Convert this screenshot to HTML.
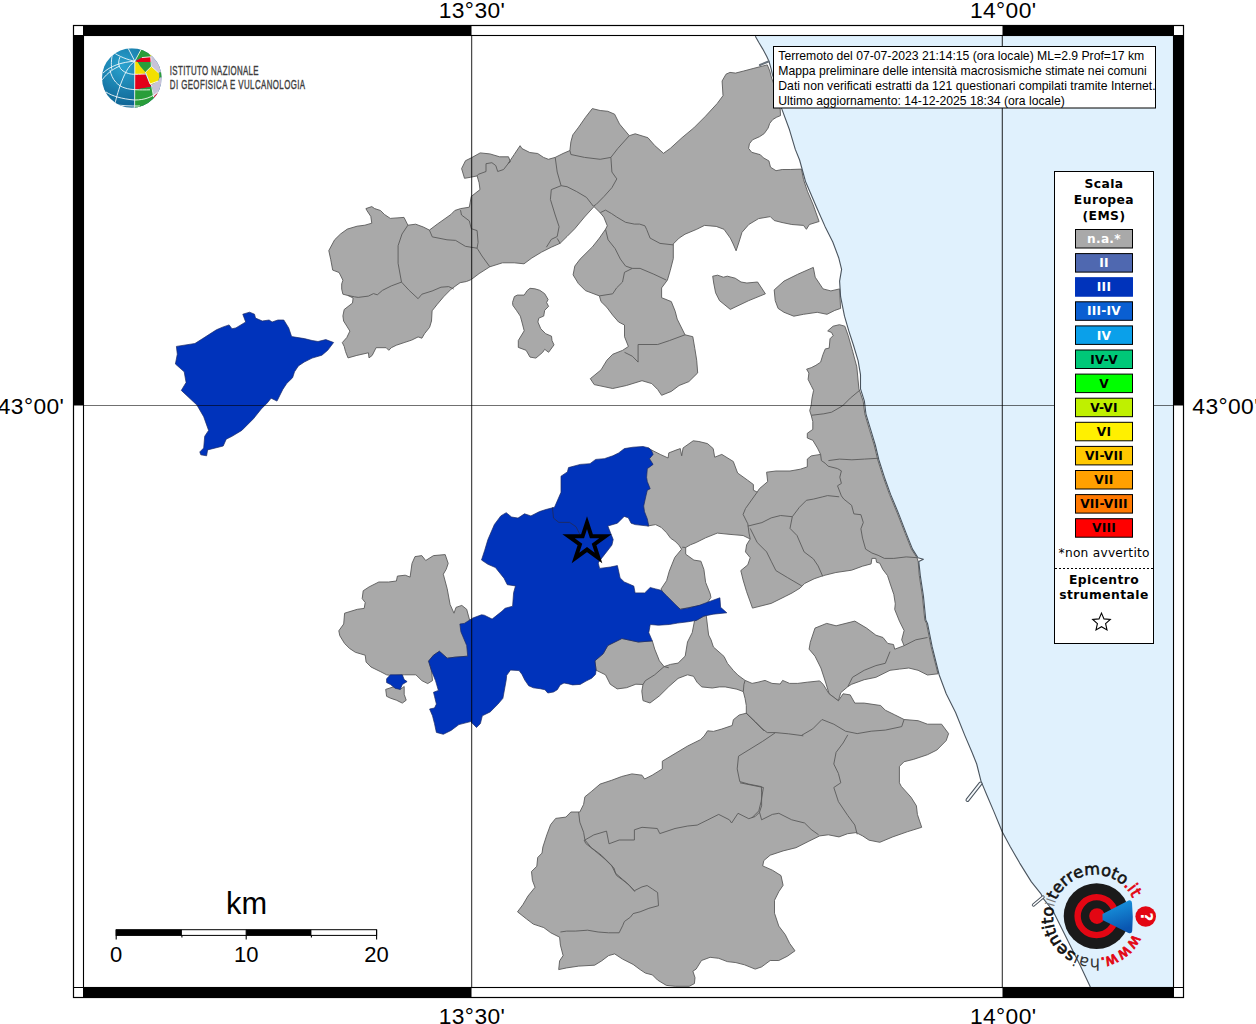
<!DOCTYPE html><html><head><meta charset="utf-8"><title>Mappa intensità macrosismiche</title><style>html,body{margin:0;padding:0;background:#fff;width:1256px;height:1024px;overflow:hidden}svg{display:block}</style></head><body>
<svg width="1256" height="1024" viewBox="0 0 1256 1024">
<defs><clipPath id="mapclip"><rect x="84" y="36" width="1089" height="951"/></clipPath><radialGradient id="globeblue" cx="0.35" cy="0.3" r="0.8"><stop offset="0" stop-color="#2aa3cf"/><stop offset="1" stop-color="#0b5a8a"/></radialGradient><linearGradient id="megablue" x1="0" y1="0" x2="0.3" y2="1"><stop offset="0" stop-color="#1aa0e6"/><stop offset="1" stop-color="#0a56b0"/></linearGradient></defs>
<rect width="1256" height="1024" fill="#fff"/>
<g clip-path="url(#mapclip)">
<polygon points="755.3,36.2 758.7,42.3 762.8,49.1 766.9,56.7 769.0,61.4 771.0,68.3 772.4,74.4 775.8,85.0 781.6,108.4 789.5,129.8 795.3,149.4 799.6,160.0 805.5,181.5 817.2,208.8 825.0,226.4 832.8,242.0 838.7,257.7 841.6,269.4 839.6,281.1 840.6,296.7 844.5,316.2 848.8,330.9 853.4,345.0 858.1,360.6 860.5,374.7 860.5,388.8 864.4,401.2 865.9,413.8 870.6,429.4 875.3,445.0 878.9,460.0 884.4,477.2 890.6,494.4 898.4,513.1 906.2,533.4 912.5,549.1 918.0,557.7 923.4,559.2 918.8,561.6 920.3,575.6 923.4,595.9 925.8,620.0 927.5,623.4 932.2,646.9 939.2,675.0 946.2,693.8 955.6,712.5 965.0,735.9 972.0,752.3 976.7,764.0 981.0,781.1 986.9,795.2 993.9,811.6 1002.1,831.5 1010.3,846.7 1019.7,863.1 1031.4,881.9 1040.8,893.6 1043.1,898.3 1052.5,910.0 1061.9,928.7 1071.2,947.5 1080.6,966.2 1090.0,986.2 1090.5,988.0 1180.0,990.0 1180.0,30.0" fill="#e0f1fd"/>
<polygon points="365.9,208.6 371.8,206.6 374.7,208.6 380.5,210.5 384.5,214.5 390.3,218.4 404.0,217.4 407.9,225.2 415.7,224.2 423.5,227.1 429.4,230.1 437.2,224.2 450.9,214.5 454.8,210.5 460.6,208.6 469.3,207.2 471.3,196.4 480.0,189.6 479.1,182.8 477.1,175.9 470.4,177.3 464.5,178.3 461.6,168.6 465.5,160.7 471.4,157.8 480.2,152.9 489.9,153.9 499.7,156.8 508.5,156.8 510.4,161.7 508.4,163.2 514.2,154.5 520.1,145.7 522.0,148.6 529.8,152.5 537.7,153.5 543.5,157.4 548.4,159.3 555.2,157.4 563.0,153.5 569.9,150.5 570.9,141.8 572.8,134.9 578.7,127.1 585.5,117.3 592.3,108.6 600.2,110.5 607.8,111.3 614.6,114.2 619.5,124.0 629.3,135.7 635.2,133.8 647.9,137.7 654.7,145.5 663.5,153.3 670.3,148.4 682.0,137.7 693.8,127.9 705.5,116.2 717.2,103.5 723.0,95.7 722.1,81.0 726.0,74.2 730.0,72.4 735.5,73.1 743.7,71.0 753.9,68.3 762.1,66.2 767.3,64.9 769.8,71.0 771.3,77.0 774.5,86.0 777.5,97.0 780.2,109.0 780.5,115.6 776.7,117.2 772.8,119.5 769.7,123.4 768.1,128.1 764.2,133.6 759.5,136.7 752.5,139.8 749.4,143.8 748.6,148.4 751.7,152.3 760.3,154.7 763.4,157.8 768.9,160.9 770.5,167.2 776.0,170.7 782.2,169.5 790.8,169.5 801.5,169.1 803.5,179.5 807.4,191.2 813.2,204.9 819.1,221.5 809.4,224.5 806.4,229.3 803.5,225.4 791.8,224.5 782.0,222.5 774.2,220.5 770.3,216.6 758.6,218.6 748.8,224.5 742.0,232.3 739.0,242.0 736.1,250.8 733.2,244.0 730.3,238.1 724.0,229.3 716.2,226.4 704.5,225.4 696.7,229.3 685.0,234.2 679.1,238.1 673.3,243.9 673.3,258.6 670.3,270.3 667.4,280.1 661.6,287.9 661.6,297.7 671.3,301.6 675.2,311.3 677.2,319.1 685.0,334.8 692.8,336.7 694.8,348.4 696.7,360.2 697.7,372.9 688.9,381.6 679.1,385.5 671.3,391.4 661.6,395.3 657.7,389.5 651.8,383.6 642.0,380.7 626.4,385.5 612.7,388.5 594.2,384.6 590.3,378.7 601.0,369.9 606.9,360.2 612.7,354.3 622.5,350.4 628.4,346.5 624.5,336.7 624.5,325.0 618.6,322.0 612.7,315.2 606.9,307.4 601.0,301.6 599.4,295.9 585.4,290.6 578.4,283.6 573.1,274.9 574.8,266.1 580.1,259.1 592.4,246.9 599.4,238.1 605.5,229.3 607.3,225.8 603.8,217.1 600.2,212.7 594.0,206.6 584.5,217.0 574.8,228.7 567.0,236.5 560.1,243.3 551.3,247.2 541.6,252.1 531.8,258.0 524.0,263.8 514.2,262.8 502.5,262.8 489.8,266.8 479.1,273.6 471.3,279.5 466.5,281.5 460.1,282.7 451.2,289.1 443.6,296.8 437.2,304.4 432.1,310.8 431.5,321.0 429.6,327.3 424.5,333.7 421.9,338.2 418.1,336.9 411.7,340.1 404.1,342.6 396.4,345.2 391.3,347.7 388.8,350.3 386.2,347.7 376.1,347.7 372.2,355.4 369.0,357.9 368.4,352.8 356.9,355.4 348.0,357.9 345.5,351.5 344.2,346.4 342.3,342.6 346.8,337.5 349.9,331.1 346.8,326.1 343.6,321.0 342.9,315.9 344.2,309.5 352.5,303.1 353.1,298.0 348.0,295.5 342.9,294.2 341.7,289.1 341.7,284.0 342.9,280.2 339.1,272.5 332.7,270.1 330.7,259.4 328.8,250.6 334.6,239.8 340.5,234.0 347.3,229.1 357.1,226.2 364.9,225.2 371.8,223.2 370.8,216.4 366.9,210.5" fill="#a9a9a9" stroke="#5a5a5a" stroke-width="0.9" stroke-linejoin="round" />
<polygon points="512.5,302.5 514.4,296.6 517.3,295.1 524.2,295.1 527.1,290.7 530.0,288.3 534.9,288.8 539.8,290.3 544.7,293.7 548.1,299.5 546.6,302.5 548.6,306.4 544.7,310.3 543.7,316.1 538.8,318.1 537.9,322.0 540.8,328.8 545.7,333.7 551.5,336.2 552.0,340.5 554.0,344.9 548.6,352.3 544.7,349.3 542.7,352.3 535.9,358.1 530.0,357.1 526.1,350.3 518.3,347.4 518.3,340.5 524.2,330.8 522.2,323.0 520.3,316.1 516.4,310.3 512.9,305.4" fill="#a9a9a9" stroke="#5a5a5a" stroke-width="0.9" stroke-linejoin="round" />
<polygon points="712.7,276.2 717.6,275.2 723.4,277.2 727.3,276.2 735.2,278.2 741.0,282.0 746.9,283.0 757.6,282.0 765.4,293.8 748.8,300.6 730.3,309.4 719.5,300.6 715.6,292.8 713.7,283.0" fill="#a9a9a9" stroke="#5a5a5a" stroke-width="0.9" stroke-linejoin="round" />
<polygon points="774.2,289.9 784.0,281.1 797.7,274.3 813.3,267.4 815.2,277.2 819.1,283.0 823.0,288.9 830.9,290.9 839.6,288.9 840.6,308.4 834.8,310.4 827.0,314.3 817.2,312.3 803.5,314.3 793.8,316.2 784.0,312.3 778.1,308.4 775.2,300.6" fill="#a9a9a9" stroke="#5a5a5a" stroke-width="0.9" stroke-linejoin="round" />
<polygon points="833.1,326.2 839.4,324.7 844.8,326.2 848.2,335.6 852.6,351.2 856.8,366.9 858.9,388.8 863.2,401.2 864.8,413.8 869.4,429.4 874.2,445.0 877.8,460.0 883.3,477.2 889.5,494.4 897.3,513.1 905.2,533.4 911.4,549.1 917.0,557.7 918.2,561.6 919.3,575.6 922.4,595.9 924.8,620.0 926.5,623.4 931.2,646.9 938.0,673.8 927.5,675.0 918.1,670.3 908.8,668.0 899.4,669.1 890.0,670.3 875.9,677.3 864.2,679.7 851.3,684.4 847.8,686.7 840.8,692.6 838.4,700.8 829.1,693.8 825.5,682.0 820.9,668.0 815.0,656.2 809.1,649.2 810.3,642.2 815.0,628.1 826.7,623.4 836.1,625.8 854.8,621.1 866.6,628.1 875.9,635.2 883.0,637.5 887.7,643.4 893.5,644.5 894.7,649.2 904.1,645.7 901.7,639.8 904.1,630.5 899.4,621.1 894.7,609.4 895.3,603.8 893.8,594.4 890.6,585.0 887.5,575.6 882.8,569.4 879.7,563.1 876.6,562.3 875.8,558.4 871.9,558.4 871.1,563.9 862.5,566.2 851.6,570.2 835.9,572.5 823.4,575.6 814.1,578.8 804.7,583.4 800.0,588.1 792.0,593.0 785.3,596.4 771.2,603.4 752.5,608.1 746.6,591.7 743.1,580.0 740.8,570.6 747.8,564.8 750.2,557.7 745.5,551.9 746.6,544.8 750.2,539.0 743.1,535.5 729.0,534.3 717.3,533.1 705.6,537.8 696.2,542.5 690.4,544.8 685.7,547.5 685.7,554.2 693.9,560.1 700.9,561.2 703.9,569.4 705.6,582.3 710.3,594.1 710.9,597.5 706.2,604.5 692.2,606.9 680.5,609.2 673.4,604.5 664.1,595.2 661.1,588.9 666.6,580.7 669.3,571.1 672.0,564.3 674.8,557.4 681.6,549.2 678.9,545.1 674.8,541.0 670.7,538.3 666.6,532.8 661.1,527.3 655.6,524.6 647.5,526.0 640.0,509.5 640.0,496.6 643.0,486.9 642.0,477.3 642.0,467.6 646.0,460.1 647.0,451.5 648.0,448.0 653.1,450.8 660.2,454.4 668.1,458.0 668.8,452.9 676.0,450.1 680.3,448.6 681.7,455.8 683.1,447.9 693.2,440.8 698.9,441.5 707.5,443.6 713.2,448.6 714.7,457.2 721.8,454.4 733.3,461.5 737.6,473.0 747.6,480.2 753.4,484.5 753.4,490.2 757.2,492.1 759.5,488.6 767.7,481.6 766.6,472.2 775.9,471.0 790.0,471.0 800.3,469.2 807.3,466.9 807.3,459.1 811.2,455.9 820.6,454.4 817.5,448.1 812.8,440.3 807.3,438.0 807.3,433.3 812.8,429.4 812.8,421.6 811.2,415.3 809.7,410.6 811.2,405.2 812.0,398.1 813.6,390.3 811.2,385.6 808.1,379.4 808.9,373.1 806.6,369.2 811.2,367.7 815.9,365.3 820.6,362.2 823.0,354.4 825.3,348.9 829.2,348.1 830.0,338.8 833.1,335.6 831.6,332.5 827.7,330.9" fill="#a9a9a9" stroke="#5a5a5a" stroke-width="0.9" stroke-linejoin="round" />
<polygon points="594.9,660.8 603.1,653.8 607.8,645.5 621.9,638.5 638.3,642.0 652.3,640.9 654.7,649.1 659.4,660.8 664.1,666.6 670.5,664.4 678.1,663.1 685.2,656.1 687.5,642.0 692.2,632.7 694.5,620.9 706.2,615.1 708.6,635.0 711.1,640.0 713.4,647.0 724.0,656.4 727.5,663.4 733.4,670.5 738.0,675.2 745.1,680.4 752.1,683.4 758.0,682.2 765.0,680.4 772.0,683.4 780.2,684.0 782.6,680.4 789.6,683.4 797.8,683.4 807.2,682.2 819.7,680.9 823.2,684.4 829.1,693.8 838.4,700.8 843.1,693.8 850.2,694.9 854.8,703.1 864.2,703.1 880.6,705.5 885.3,710.2 894.7,714.8 904.1,719.5 918.1,720.7 927.5,724.2 941.6,724.2 948.6,733.6 946.2,740.6 936.9,750.0 927.5,754.7 913.4,759.4 904.1,761.7 899.4,766.4 899.4,782.8 901.3,786.4 911.0,797.2 916.4,805.8 917.4,814.4 921.7,827.3 907.8,831.6 892.7,836.9 879.8,842.3 869.1,840.2 862.6,835.9 856.2,832.6 847.6,833.7 839.0,836.9 828.3,834.8 819.7,835.9 808.9,841.2 796.0,847.7 783.1,850.9 770.2,855.2 763.8,860.6 762.7,865.9 772.4,870.2 781.0,875.6 783.1,885.3 778.8,891.7 774.5,900.3 774.5,913.2 778.8,926.1 785.3,934.7 789.6,943.3 795.0,950.8 787.4,956.2 778.8,960.5 770.2,960.5 761.6,966.9 755.2,969.1 744.5,964.8 735.9,962.6 727.3,961.6 718.7,958.3 710.1,957.3 701.5,960.5 696.1,969.1 692.9,971.2 695.0,977.7 694.4,983.6 689.2,986.3 675.2,986.3 666.4,985.4 657.6,980.1 652.4,974.9 645.4,973.1 640.1,969.6 633.1,964.4 622.6,959.1 614.7,953.9 608.6,955.6 601.6,960.9 594.6,965.2 578.8,966.1 566.6,967.9 558.7,969.6 559.6,960.9 563.1,955.6 560.4,945.1 559.6,937.2 550.8,932.8 543.8,927.6 533.3,924.1 526.3,918.8 517.5,911.8 522.8,904.8 528.0,896.0 535.0,887.3 532.4,880.3 531.5,871.5 536.8,866.3 537.7,857.5 542.0,853.1 542.9,847.0 546.8,834.9 550.6,824.7 555.7,818.4 565.9,817.1 570.9,812.0 579.8,812.0 583.6,804.4 584.9,796.8 591.2,791.7 600.1,784.1 611.6,780.3 621.7,776.5 631.9,773.9 642.0,775.2 644.6,779.0 652.2,775.2 662.3,768.9 662.3,761.2 675.0,753.6 687.7,746.0 700.4,739.7 704.1,736.1 707.6,730.8 713.4,731.4 721.6,729.1 732.2,725.5 733.4,719.7 739.2,715.0 746.3,713.2 746.3,705.6 745.1,698.6 743.3,691.6 736.9,689.2 725.2,686.9 719.3,686.9 712.3,688.0 701.7,686.9 697.0,682.2 693.5,676.3 687.5,674.8 678.1,678.4 668.8,686.6 659.4,695.9 650.0,703.0 643.0,700.6 641.8,691.2 643.0,684.5 635.9,684.2 626.6,687.7 617.2,688.9 610.2,684.2 605.5,674.8 596.1,670.2" fill="#a9a9a9" stroke="#5a5a5a" stroke-width="0.9" stroke-linejoin="round" />
<polygon points="338.8,630.8 343.7,624.0 344.6,613.2 357.3,609.3 364.2,608.4 365.2,602.5 362.2,598.6 363.2,590.8 369.1,586.9 378.8,582.0 388.6,582.0 396.4,581.0 397.4,576.1 405.2,575.2 410.1,577.1 412.0,563.4 415.0,556.6 421.8,555.6 425.7,560.5 433.5,555.6 445.2,554.6 448.2,563.4 446.2,569.3 443.3,574.2 447.2,588.8 450.1,604.5 454.0,613.2 456.0,607.4 461.8,605.4 466.7,609.3 469.6,620.1 475.0,628.0 474.0,650.0 467.7,656.2 455.0,657.2 447.2,658.2 439.4,651.3 433.5,655.2 428.6,661.1 431.6,670.9 432.5,680.6 427.7,683.6 421.8,680.6 415.9,674.8 404.2,674.8 392.5,675.7 386.6,674.8 380.8,671.8 371.0,667.0 366.1,662.1 365.2,655.2 355.4,652.3 349.5,648.4 344.6,643.5 339.8,635.7" fill="#a9a9a9" stroke="#5a5a5a" stroke-width="0.9" stroke-linejoin="round" />
<polygon points="385.7,689.4 394.5,686.5 400.3,689.4 404.2,686.5 404.2,694.3 406.2,700.2 402.3,703.1 396.4,700.2 390.5,698.2 386.6,696.3" fill="#a9a9a9" stroke="#5a5a5a" stroke-width="0.9" stroke-linejoin="round" />
<polyline points="407.9,225.2 402.0,234.0 398.1,245.7 398.1,263.3 401.5,282.1" fill="none" stroke="#5a5a5a" stroke-width="0.9" stroke-linejoin="round"/>
<polyline points="401.5,282.1 391.3,285.9 382.4,290.4 377.3,294.8 373.5,293.6 368.4,296.1 358.2,297.4 354.4,296.8 348.0,295.5" fill="none" stroke="#5a5a5a" stroke-width="0.9" stroke-linejoin="round"/>
<polyline points="401.5,282.1 409.2,290.4 418.1,298.7 421.9,294.2 432.1,291.0 441.0,287.2 448.7,286.6 453.8,289.1" fill="none" stroke="#5a5a5a" stroke-width="0.9" stroke-linejoin="round"/>
<polyline points="429.4,230.1 432.3,236.9 440.0,238.4 447.0,239.8 455.6,240.4 465.4,246.3 477.1,248.2" fill="none" stroke="#5a5a5a" stroke-width="0.9" stroke-linejoin="round"/>
<polyline points="460.5,210.1 461.5,215.0 469.3,220.9 471.3,228.7 477.1,230.6 478.1,242.3 477.1,248.2 482.0,256.0 489.8,266.8" fill="none" stroke="#5a5a5a" stroke-width="0.9" stroke-linejoin="round"/>
<polyline points="477.1,175.9 478.2,174.4 486.0,171.5 486.0,163.7 491.9,162.7 495.8,165.6 497.7,171.5 503.6,169.5 509.0,162.5" fill="none" stroke="#5a5a5a" stroke-width="0.9" stroke-linejoin="round"/>
<polyline points="555.2,157.4 557.2,172.0 561.1,185.7 567.0,186.7 576.7,191.6 586.5,197.4 593.3,206.2" fill="none" stroke="#5a5a5a" stroke-width="0.9" stroke-linejoin="round"/>
<polyline points="561.1,185.7 551.3,189.6 550.4,199.4 555.2,215.0 559.1,226.7 557.2,236.5 551.3,239.4 546.4,247.2" fill="none" stroke="#5a5a5a" stroke-width="0.9" stroke-linejoin="round"/>
<polyline points="557.2,238.4 560.1,243.3" fill="none" stroke="#5a5a5a" stroke-width="0.9" stroke-linejoin="round"/>
<polyline points="569.9,150.5 570.9,154.5 584.5,157.4 600.2,159.3 610.9,157.4 617.7,148.6 629.3,135.7" fill="none" stroke="#5a5a5a" stroke-width="0.9" stroke-linejoin="round"/>
<polyline points="610.9,157.4 611.9,172.0 616.8,178.9 611.9,187.7 604.1,196.4 596.3,204.3 593.3,206.2" fill="none" stroke="#5a5a5a" stroke-width="0.9" stroke-linejoin="round"/>
<polyline points="600.2,212.7 605.5,210.1 611.6,213.6 616.8,217.1 625.6,222.3 634.4,224.1 639.6,224.1 644.9,225.8 646.6,229.3 650.1,238.1 660.0,243.4 673.3,244.9" fill="none" stroke="#5a5a5a" stroke-width="0.9" stroke-linejoin="round"/>
<polyline points="605.5,229.3 608.1,239.8 615.1,248.6 620.4,259.1 625.6,266.1 632.3,268.4 640.1,268.4 653.8,274.2 666.4,280.1" fill="none" stroke="#5a5a5a" stroke-width="0.9" stroke-linejoin="round"/>
<polyline points="632.3,268.4 624.5,272.3 622.5,282.0 616.6,287.9 612.7,293.8 599.4,295.9" fill="none" stroke="#5a5a5a" stroke-width="0.9" stroke-linejoin="round"/>
<polyline points="685.0,334.8 669.4,340.6 657.7,344.5 638.1,344.5 638.1,362.1 632.3,356.2 624.5,352.3" fill="none" stroke="#5a5a5a" stroke-width="0.9" stroke-linejoin="round"/>
<polyline points="859.7,390.3 850.3,398.1 842.5,405.9 831.6,412.2 823.8,413.8 811.2,415.3" fill="none" stroke="#5a5a5a" stroke-width="0.9" stroke-linejoin="round"/>
<polyline points="820.6,454.4 821.4,460.6 825.0,463.1 828.1,466.2 837.5,468.6 841.4,470.9 839.8,477.2 841.4,483.4 837.5,485.8 841.4,495.9 843.8,499.1 851.6,505.3 853.9,513.9 860.9,514.7 863.3,522.5 860.9,528.8 862.5,538.1 865.6,549.1 871.9,553.0 878.1,555.3 884.4,558.4 893.8,558.4 906.2,556.9 917.2,557.7" fill="none" stroke="#5a5a5a" stroke-width="0.9" stroke-linejoin="round"/>
<polyline points="828.4,460.6 839.4,459.1 851.9,459.8 864.4,459.1 877.7,458.3" fill="none" stroke="#5a5a5a" stroke-width="0.9" stroke-linejoin="round"/>
<polyline points="757.2,492.1 745.5,508.5 743.1,514.4 747.8,523.8 749.0,533.1 750.2,539.0" fill="none" stroke="#5a5a5a" stroke-width="0.9" stroke-linejoin="round"/>
<polyline points="747.8,526.1 761.9,522.6 771.2,517.9 780.6,515.5 792.3,516.7 799.4,507.3 806.4,500.3 813.4,499.1 822.8,496.8 827.5,495.6 839.2,496.8" fill="none" stroke="#5a5a5a" stroke-width="0.9" stroke-linejoin="round"/>
<polyline points="792.3,516.7 790.0,528.4 797.0,535.5 804.1,551.9 813.4,558.9 818.1,565.9 822.8,576.5" fill="none" stroke="#5a5a5a" stroke-width="0.9" stroke-linejoin="round"/>
<polyline points="750.2,528.4 757.2,542.5 766.6,551.9 771.2,561.2 775.9,570.6 787.7,577.7 801.7,585.9" fill="none" stroke="#5a5a5a" stroke-width="0.9" stroke-linejoin="round"/>
<polyline points="890.0,651.6 885.3,663.3 875.9,665.6 864.2,670.3 852.5,677.3 847.8,686.7" fill="none" stroke="#5a5a5a" stroke-width="0.9" stroke-linejoin="round"/>
<polyline points="904.1,645.7 915.8,639.8 927.5,637.5" fill="none" stroke="#5a5a5a" stroke-width="0.9" stroke-linejoin="round"/>
<polyline points="682.2,547.2 685.7,547.5" fill="none" stroke="#5a5a5a" stroke-width="0.9" stroke-linejoin="round"/>
<polyline points="664.1,666.6 654.7,674.8 645.3,680.7 643.0,684.5" fill="none" stroke="#5a5a5a" stroke-width="0.9" stroke-linejoin="round"/>
<polyline points="668.8,667.8 664.1,666.6" fill="none" stroke="#5a5a5a" stroke-width="0.9" stroke-linejoin="round"/>
<polyline points="745.1,680.4 743.9,684.5 743.3,691.6" fill="none" stroke="#5a5a5a" stroke-width="0.9" stroke-linejoin="round"/>
<polyline points="746.3,713.2 755.6,722.0 762.7,729.1 767.3,732.6 775.5,732.6 788.4,733.8 801.3,735.5 812.7,728.9 822.0,719.5 833.8,724.2 845.5,731.2 857.2,733.6 871.2,731.2 885.3,730.1 901.7,726.6 904.1,719.5" fill="none" stroke="#5a5a5a" stroke-width="0.9" stroke-linejoin="round"/>
<polyline points="775.5,732.6 762.7,741.3 738.5,756.2" fill="none" stroke="#5a5a5a" stroke-width="0.9" stroke-linejoin="round"/>
<polyline points="801.3,735.5 803.3,735.9" fill="none" stroke="#5a5a5a" stroke-width="0.9" stroke-linejoin="round"/>
<polyline points="847.8,734.8 843.1,743.0 836.1,752.3 833.8,764.0 838.4,773.4 840.8,782.8 833.8,787.5 838.4,801.6 847.8,815.6 854.8,825.0 857.2,834.4" fill="none" stroke="#5a5a5a" stroke-width="0.9" stroke-linejoin="round"/>
<polyline points="740.0,782.8 763.4,787.5 761.1,801.6 758.8,810.9 751.7,818.0" fill="none" stroke="#5a5a5a" stroke-width="0.9" stroke-linejoin="round"/>
<polyline points="746.1,713.0 753.7,720.6 763.9,730.8" fill="none" stroke="#5a5a5a" stroke-width="0.9" stroke-linejoin="round"/>
<polyline points="578.6,812.0 579.8,822.2 583.6,832.3 584.9,840.0 593.8,834.9 606.5,831.1 609.0,843.8 619.2,840.0 634.4,840.0 634.4,829.8 642.0,827.3 657.3,828.5 659.8,833.6 675.0,828.5 687.7,826.0 697.2,825.1 707.9,819.8 718.7,814.4 729.4,819.8 731.6,823.0 738.0,813.3 748.8,818.7 755.2,816.5 759.5,812.2 761.6,805.8 761.6,792.9 761.4,786.6 748.7,784.1 739.8,781.6 737.2,768.9 738.5,756.2" fill="none" stroke="#5a5a5a" stroke-width="0.9" stroke-linejoin="round"/>
<polyline points="759.5,812.2 761.6,819.8 772.4,814.4 778.8,813.3 791.7,819.8 804.6,823.0 811.1,829.4 818.6,834.8" fill="none" stroke="#5a5a5a" stroke-width="0.9" stroke-linejoin="round"/>
<polyline points="584.9,840.0 591.2,847.6 601.4,855.2 611.6,865.4 616.6,875.5 626.8,883.1 634.4,890.7 642.0,886.9 647.1,885.5 652.4,889.0 657.6,892.5 658.5,905.7 648.9,908.3 640.1,911.8 633.1,913.6 630.5,917.1 624.4,921.5 622.6,925.8 619.1,932.8 608.6,932.8 598.1,932.0 587.6,930.2 575.3,931.1 566.6,931.1 560.4,932.0" fill="none" stroke="#5a5a5a" stroke-width="0.9" stroke-linejoin="round"/>
<polyline points="584.1,840.0 585.8,843.5 594.6,850.5 605.1,859.3 613.9,868.0 615.6,873.3 622.6,879.4 629.6,885.5 634.9,891.7" fill="none" stroke="#5a5a5a" stroke-width="0.9" stroke-linejoin="round"/>
<polygon points="176.4,346.4 194.9,343.5 202.7,338.6 216.4,329.8 223.2,326.9 229.1,324.9 232.0,328.8 235.9,327.9 245.7,322.0 242.8,314.2 249.6,312.2 254.5,314.2 255.5,318.1 262.3,321.0 269.1,320.0 272.1,322.0 277.9,320.0 283.8,320.0 288.7,327.9 291.6,336.6 304.3,338.6 312.1,340.5 318.0,341.5 325.8,339.6 333.6,342.5 327.7,350.3 321.9,355.2 312.1,358.1 304.3,362.0 298.4,365.9 294.5,371.8 292.6,377.7 286.7,383.5 282.8,389.4 279.9,395.2 277.0,401.1 271.1,398.2 267.2,403.0 261.3,408.9 253.5,418.7 241.8,430.4 232.0,436.3 226.2,439.2 223.2,446.0 207.6,449.9 206.6,455.8 200.8,454.8 199.8,451.9 203.7,448.0 204.7,436.3 208.6,430.4 203.7,416.7 196.9,405.0 181.3,390.4 186.1,382.5 184.2,371.8 175.4,364.0 177.3,354.2" fill="#0033bb" stroke="#1a2a66" stroke-width="0.7" stroke-linejoin="round" />
<polygon points="561.0,476.2 567.4,471.9 568.5,467.6 580.3,464.4 590.0,463.7 595.7,459.4 604.3,458.7 612.9,455.8 618.7,452.9 624.4,448.6 633.0,447.2 643.0,446.5 648.8,447.9 651.6,450.8 653.1,454.4 649.5,458.7 653.1,464.4 647.3,468.7 646.6,477.3 647.3,481.6 650.2,488.8 647.3,490.2 645.9,496.0 643.7,506.0 644.5,511.7 647.3,518.9 648.8,526.1 635.2,524.6 631.1,523.2 628.3,517.8 624.2,516.4 617.4,523.2 607.8,526.0 610.5,532.8 613.2,539.6 611.9,545.1 602.3,557.4 598.2,562.9 599.6,568.4 610.5,567.0 617.4,565.6 620.1,577.9 624.2,581.9 633.8,586.1 635.1,592.9 644.7,592.9 650.2,587.5 655.6,588.9 661.1,590.3 666.6,595.7 674.8,603.9 680.3,609.4 688.5,608.0 699.4,605.3 710.3,601.2 719.9,597.8 720.6,607.3 726.8,612.8 713.1,614.2 703.5,616.2 696.7,620.3 688.5,621.7 677.5,623.1 669.3,624.5 658.4,625.2 650.2,624.5 648.8,632.7 652.3,640.9 638.3,642.0 621.9,638.5 607.8,645.5 603.1,653.8 594.9,660.8 596.1,670.2 595.5,674.4 591.7,678.2 586.0,681.1 580.2,684.4 572.6,684.9 568.8,683.9 564.0,683.0 560.2,684.9 557.3,689.7 553.5,692.0 547.8,693.0 544.9,689.7 540.1,688.7 533.4,687.8 528.7,685.8 524.8,680.1 522.0,674.4 519.1,670.6 510.5,670.1 506.7,675.3 506.2,680.1 504.8,687.8 502.9,698.3 498.0,704.1 490.2,711.9 482.3,715.8 480.4,723.6 476.5,727.5 470.6,721.6 458.9,724.6 451.1,730.4 443.3,734.3 436.4,732.4 434.5,723.6 432.5,715.8 429.6,709.0 434.5,708.0 436.4,704.1 434.5,696.3 433.5,692.3 438.4,690.4 435.5,680.6 431.6,670.9 428.6,661.1 433.5,655.2 439.4,651.3 447.2,658.2 455.0,657.2 467.7,656.2 466.7,645.5 460.9,631.8 459.9,624.0 464.3,623.4 472.9,618.0 481.5,614.8 484.3,615.2 492.1,619.1 501.9,611.3 505.1,608.3 512.6,606.2 513.6,592.7 515.5,585.9 507.3,584.7 504.0,578.2 495.4,567.5 487.9,564.3 481.5,560.0 484.7,550.3 487.9,539.6 494.4,524.5 500.8,515.9 506.2,512.7 511.6,517.0 518.0,518.1 524.5,513.8 530.9,515.9 539.5,511.6 545.9,509.5 554.5,507.3 561.0,492.3" fill="#0033bb" stroke="#1a2a66" stroke-width="0.7" stroke-linejoin="round" />
<polygon points="386.6,678.7 390.5,674.8 402.3,674.8 404.2,679.6 407.1,681.6 402.3,684.5 400.3,689.4 395.4,688.4 390.5,684.5 386.6,682.6" fill="#0033bb" stroke="#1a2a66" stroke-width="0.7" stroke-linejoin="round" />
<polyline points="552.4,507.3 553.5,518.1 558.8,522.4 569.6,522.4 576.0,526.7 580.3,535.3" fill="none" stroke="#222a55" stroke-width="0.8" stroke-linejoin="round"/>
<polyline points="755.3,36.2 758.7,42.3 762.8,49.1 766.9,56.7 769.0,61.4 771.0,68.3 772.4,74.4 775.8,85.0 781.6,108.4 789.5,129.8 795.3,149.4 799.6,160.0 805.5,181.5 817.2,208.8 825.0,226.4 832.8,242.0 838.7,257.7 841.6,269.4 839.6,281.1 840.6,296.7 844.5,316.2 848.8,330.9 853.4,345.0 858.1,360.6 860.5,374.7 860.5,388.8 864.4,401.2 865.9,413.8 870.6,429.4 875.3,445.0 878.9,460.0 884.4,477.2 890.6,494.4 898.4,513.1 906.2,533.4 912.5,549.1 918.0,557.7 923.4,559.2 918.8,561.6 920.3,575.6 923.4,595.9 925.8,620.0 927.5,623.4 932.2,646.9 939.2,675.0 946.2,693.8 955.6,712.5 965.0,735.9 972.0,752.3 976.7,764.0 981.0,781.1 986.9,795.2 993.9,811.6 1002.1,831.5 1010.3,846.7 1019.7,863.1 1031.4,881.9 1040.8,893.6 1043.1,898.3 1052.5,910.0 1061.9,928.7 1071.2,947.5 1080.6,966.2 1090.0,986.2 1090.5,988.0" fill="none" stroke="#4a545e" stroke-width="1.1" stroke-linejoin="round"/>
<path d="M760,65 L768.5,61.5" stroke="#6a737c" stroke-width="2.2" stroke-linecap="round" fill="none"/>
<path d="M967.5,800 L980.5,783.5" stroke="#4a545e" stroke-width="4" stroke-linecap="round" fill="none"/><path d="M967.5,800 L980.5,783.5" stroke="#f4f8fb" stroke-width="2" stroke-linecap="round" fill="none"/>
<path d="M1033.5,905 L1043,897" stroke="#4a545e" stroke-width="3.4" stroke-linecap="round" fill="none"/><path d="M1033.5,905 L1043,897" stroke="#fff" stroke-width="1.6" stroke-linecap="round" fill="none"/>
<path d="M471.62,36 V987 M1002.35,36 V987" stroke="#000" stroke-opacity="0.7" stroke-width="1.25" fill="none"/>
<path d="M84,405.45 H1173" stroke="#000" stroke-opacity="0.56" stroke-width="1.1" fill="none"/>
<polygon points="587.0,522.7 591.4,536.2 605.5,536.2 594.1,544.5 598.5,558.0 587.0,549.6 575.5,558.0 579.9,544.5 568.5,536.2 582.6,536.2" fill="none" stroke="#000" stroke-width="4" stroke-linejoin="miter" stroke-miterlimit="10"/>
</g>
<rect x="773.5" y="46.5" width="382" height="61.5" fill="#fff" stroke="#000" stroke-width="1"/>
<text x="778.3" y="59.8" font-family="Liberation Sans, Arial, sans-serif" font-size="12.2" fill="#000">Terremoto del 07-07-2023 21:14:15 (ora locale) ML=2.9 Prof=17 km</text>
<text x="778.3" y="74.8" font-family="Liberation Sans, Arial, sans-serif" font-size="12.2" fill="#000">Mappa preliminare delle intensità macrosismiche stimate nei comuni</text>
<text x="778.3" y="89.8" font-family="Liberation Sans, Arial, sans-serif" font-size="12.2" fill="#000">Dati non verificati estratti da 121 questionari compilati tramite Internet.</text>
<text x="778.3" y="104.8" font-family="Liberation Sans, Arial, sans-serif" font-size="12.2" fill="#000">Ultimo aggiornamento: 14-12-2025 18:34 (ora locale)</text>
<rect x="1054.5" y="171.5" width="99" height="472" fill="#fff" stroke="#000" stroke-width="1"/>
<text x="1104" y="187.7" font-family="DejaVu Sans, Verdana, sans-serif" font-weight="bold" font-size="12.3" letter-spacing="0.45" text-anchor="middle" fill="#000">Scala</text>
<text x="1104" y="203.7" font-family="DejaVu Sans, Verdana, sans-serif" font-weight="bold" font-size="12.3" letter-spacing="0.45" text-anchor="middle" fill="#000">Europea</text>
<text x="1104" y="219.7" font-family="DejaVu Sans, Verdana, sans-serif" font-weight="bold" font-size="12.3" letter-spacing="0.45" text-anchor="middle" fill="#000">(EMS)</text>
<rect x="1075.5" y="229.5" width="57" height="18.5" fill="#a9a9a9" stroke="#000" stroke-width="1"/>
<text x="1104" y="243.1" font-family="DejaVu Sans, Verdana, sans-serif" font-weight="bold" font-size="12.2" letter-spacing="0.25" text-anchor="middle" fill="#fff">n.a.*</text>
<rect x="1075.5" y="253.6" width="57" height="18.5" fill="#4f68b0" stroke="#000" stroke-width="1"/>
<text x="1104" y="267.2" font-family="DejaVu Sans, Verdana, sans-serif" font-weight="bold" font-size="12.2" letter-spacing="0.25" text-anchor="middle" fill="#fff">II</text>
<rect x="1075.5" y="277.7" width="57" height="18.5" fill="#0033bb" stroke="#0033bb" stroke-width="1"/>
<text x="1104" y="291.3" font-family="DejaVu Sans, Verdana, sans-serif" font-weight="bold" font-size="12.2" letter-spacing="0.25" text-anchor="middle" fill="#fff">III</text>
<rect x="1075.5" y="301.8" width="57" height="18.5" fill="#0a5fd2" stroke="#000" stroke-width="1"/>
<text x="1104" y="315.4" font-family="DejaVu Sans, Verdana, sans-serif" font-weight="bold" font-size="12.2" letter-spacing="0.25" text-anchor="middle" fill="#fff">III-IV</text>
<rect x="1075.5" y="325.9" width="57" height="18.5" fill="#0aa0ea" stroke="#000" stroke-width="1"/>
<text x="1104" y="339.5" font-family="DejaVu Sans, Verdana, sans-serif" font-weight="bold" font-size="12.2" letter-spacing="0.25" text-anchor="middle" fill="#fff">IV</text>
<rect x="1075.5" y="350.0" width="57" height="18.5" fill="#00c878" stroke="#000" stroke-width="1"/>
<text x="1104" y="363.6" font-family="DejaVu Sans, Verdana, sans-serif" font-weight="bold" font-size="12.2" letter-spacing="0.25" text-anchor="middle" fill="#000">IV-V</text>
<rect x="1075.5" y="374.1" width="57" height="18.5" fill="#00ff00" stroke="#000" stroke-width="1"/>
<text x="1104" y="387.7" font-family="DejaVu Sans, Verdana, sans-serif" font-weight="bold" font-size="12.2" letter-spacing="0.25" text-anchor="middle" fill="#000">V</text>
<rect x="1075.5" y="398.2" width="57" height="18.5" fill="#bff000" stroke="#000" stroke-width="1"/>
<text x="1104" y="411.8" font-family="DejaVu Sans, Verdana, sans-serif" font-weight="bold" font-size="12.2" letter-spacing="0.25" text-anchor="middle" fill="#000">V-VI</text>
<rect x="1075.5" y="422.3" width="57" height="18.5" fill="#fff000" stroke="#000" stroke-width="1"/>
<text x="1104" y="435.9" font-family="DejaVu Sans, Verdana, sans-serif" font-weight="bold" font-size="12.2" letter-spacing="0.25" text-anchor="middle" fill="#000">VI</text>
<rect x="1075.5" y="446.4" width="57" height="18.5" fill="#ffc800" stroke="#000" stroke-width="1"/>
<text x="1104" y="460.0" font-family="DejaVu Sans, Verdana, sans-serif" font-weight="bold" font-size="12.2" letter-spacing="0.25" text-anchor="middle" fill="#000">VI-VII</text>
<rect x="1075.5" y="470.5" width="57" height="18.5" fill="#ffa000" stroke="#000" stroke-width="1"/>
<text x="1104" y="484.1" font-family="DejaVu Sans, Verdana, sans-serif" font-weight="bold" font-size="12.2" letter-spacing="0.25" text-anchor="middle" fill="#000">VII</text>
<rect x="1075.5" y="494.6" width="57" height="18.5" fill="#ff7800" stroke="#000" stroke-width="1"/>
<text x="1104" y="508.2" font-family="DejaVu Sans, Verdana, sans-serif" font-weight="bold" font-size="12.2" letter-spacing="0.25" text-anchor="middle" fill="#000">VII-VIII</text>
<rect x="1075.5" y="518.7" width="57" height="18.5" fill="#ff0000" stroke="#000" stroke-width="1"/>
<text x="1104" y="532.3" font-family="DejaVu Sans, Verdana, sans-serif" font-weight="bold" font-size="12.2" letter-spacing="0.25" text-anchor="middle" fill="#000">VIII</text>
<text x="1104.2" y="557.4" font-family="DejaVu Sans, Verdana, sans-serif" font-size="12.2" letter-spacing="0.25" text-anchor="middle" fill="#000">*non avvertito</text>
<path d="M1055,568.5 H1153" stroke="#000" stroke-width="1" stroke-dasharray="2,2"/>
<text x="1104" y="584" font-family="DejaVu Sans, Verdana, sans-serif" font-weight="bold" font-size="12.3" letter-spacing="0.45" text-anchor="middle" fill="#000">Epicentro</text>
<text x="1104" y="599.3" font-family="DejaVu Sans, Verdana, sans-serif" font-weight="bold" font-size="12.3" letter-spacing="0.45" text-anchor="middle" fill="#000">strumentale</text>
<polygon points="1101.5,613.1 1104.0,618.9 1110.3,619.5 1105.6,623.7 1107.0,629.9 1101.5,626.7 1096.0,629.9 1097.4,623.7 1092.7,619.5 1099.0,618.9" fill="#fff" stroke="#000" stroke-width="1.1" stroke-linejoin="miter"/>
<text x="246.6" y="914.3" font-family="Liberation Sans, Arial, sans-serif" font-size="30.8" text-anchor="middle" fill="#000">km</text>
<rect x="116.2" y="929.7" width="260.4" height="5.7" fill="#fff" stroke="#000" stroke-width="1"/>
<rect x="116.2" y="929.7" width="65.7" height="5.7" fill="#000"/><rect x="246.2" y="929.7" width="65.2" height="5.7" fill="#000"/>
<path d="M116.2,929.7 V939.5 M181.9,935.4 V937.5 M246.2,929.7 V939.5 M311.4,935.4 V937.5 M376.6,929.7 V939.5" stroke="#000" stroke-width="1.1"/>
<text x="116.2" y="962.4" font-family="Liberation Sans, Arial, sans-serif" font-size="22" text-anchor="middle" fill="#000">0</text>
<text x="246.2" y="962.4" font-family="Liberation Sans, Arial, sans-serif" font-size="22" text-anchor="middle" fill="#000">10</text>
<text x="376.6" y="962.4" font-family="Liberation Sans, Arial, sans-serif" font-size="22" text-anchor="middle" fill="#000">20</text>
<g fill="#000"><rect x="83.5" y="25.5" width="388" height="10"/><rect x="1002.5" y="25.5" width="171" height="10"/><rect x="83.5" y="987.5" width="388" height="10"/><rect x="1002.5" y="987.5" width="171" height="10"/><rect x="73.5" y="35.5" width="10" height="370"/><rect x="1173.5" y="35.5" width="10" height="370"/></g>
<rect x="73.5" y="25.5" width="1110" height="972" fill="none" stroke="#000" stroke-width="1.2"/>
<rect x="83.5" y="35.5" width="1090" height="952" fill="none" stroke="#000" stroke-width="1.1"/>
<path d="M73.5,35.5 H83.5 V25.5 M1173.5,25.5 V35.5 H1183.5 M73.5,987.5 H83.5 V997.5 M1173.5,997.5 V987.5 H1183.5" fill="none" stroke="#000" stroke-width="1"/>
<text x="472" y="17.8" font-family="Liberation Sans, Arial, sans-serif" font-size="22.8" letter-spacing="0.4" fill="#000" text-anchor="middle">13°30'</text>
<text x="1003.2" y="17.8" font-family="Liberation Sans, Arial, sans-serif" font-size="22.8" letter-spacing="0.4" fill="#000" text-anchor="middle">14°00'</text>
<text x="472" y="1023.8" font-family="Liberation Sans, Arial, sans-serif" font-size="22.8" letter-spacing="0.4" fill="#000" text-anchor="middle">13°30'</text>
<text x="1003.2" y="1023.8" font-family="Liberation Sans, Arial, sans-serif" font-size="22.8" letter-spacing="0.4" fill="#000" text-anchor="middle">14°00'</text>
<text x="64.3" y="414" font-family="Liberation Sans, Arial, sans-serif" font-size="22.8" letter-spacing="0.4" fill="#000" text-anchor="end">43°00'</text>
<text x="1192.3" y="414" font-family="Liberation Sans, Arial, sans-serif" font-size="22.8" letter-spacing="0.4" fill="#000">43°00'</text>
<g>
<clipPath id="gclip"><circle cx="131.8" cy="78" r="29.8"/></clipPath>
<g clip-path="url(#gclip)">
<rect x="102.00000000000001" y="48.2" width="59.6" height="59.6" fill="url(#globeblue)"/>
<polygon points="134.9,60.5 141.9,47 146.3,48 150.7,56.8 141.9,57.6" fill="#2a9d3a"/>
<polygon points="146.3,48 153,50 152.1,56.8 150.7,56.8" fill="#f3e000"/>
<polygon points="134.9,61.2 141.9,57.6 150.7,56.8 151.4,62 137.5,62" fill="#e3001b"/>
<polygon points="150.7,56.8 152,50 165,50 165,80 161.3,78.1 159.5,76.6 159.5,72.2 158.7,73 151.4,66.4 151.4,62" fill="#c9c3d9"/>
<polygon points="137.5,62 151.4,62 151.4,66.4 145.5,72.2 140.4,66.4" fill="#2a9d3a"/>
<polygon points="134.9,61.6 137.5,62 140.4,66.4 145.5,72.2 144.8,73.7 134.9,74.4" fill="#f3e000"/>
<polygon points="145.5,72.2 151.4,66.4 158.7,73 159.5,76.6 158.4,81 151.4,84.7 150,84" fill="#f3e000"/>
<polygon points="159.5,72.2 163,72.2 163,77.5 159.5,77.5" fill="#2a9d3a"/>
<polygon points="158.4,81 159.5,77.5 163,77.5 163,95 156,99 153.6,97.1 152.1,86.9 151.4,84.7" fill="#c9c3d9"/>
<polygon points="134.9,74.4 144.8,73.7 150,84 151.4,84.7 150,86.9 134.9,89.8" fill="#e3001b"/>
<polygon points="134.9,89.8 150,86.9 152.1,86.9 153.6,97.1 156,99 146.3,112 134.9,112" fill="#2a9d3a"/>
<polygon points="153.6,97.1 158.5,91.5 157,97.5 155,99" fill="#e3001b"/>
<g fill="none" stroke="#fff" stroke-width="0.9" opacity="0.95"><path d="M134.8,61.2 L134.6,110"/><path d="M134.8,61.2 C128,60 118,56 113,52"/><path d="M134.8,61.2 C128,66 124,75 120,86 C117,95 115,103 114,108"/><path d="M134.8,61.2 L141.9,48"/><path d="M134.8,61.2 L128,48"/><path d="M120,57 C117,64 119,70 127,73 C131,74.5 134,74.5 146,74"/><path d="M103,73 C110,66 122,62 134.8,61.2"/><path d="M102,80 C108,72 115,68 120,66"/><path d="M106,92 C112,96 122,99 134.6,100 C145,100 152,97 158,92"/><path d="M110,70 C112,80 118,86 125,88 C131,90 140,90 150,89.8"/><path d="M112,104 C122,106 130,106 140,106"/><path d="M113,51 C111,60 111,66 112,70"/><path d="M151.4,66.4 L158.7,73"/><path d="M141.9,57.6 L150.7,56.8"/><path d="M150.7,56.8 L151.4,66.4 L145.5,72.2 L150,84 L151.4,84.7 L153.6,97.1"/><path d="M150,84 L158.4,81"/></g>
</g>
</g>
<text transform="translate(169.8,75) scale(0.61,1)" x="0" y="0" font-family="Liberation Sans, Arial, sans-serif" font-size="12.9" fill="#3d3d3d" stroke="#3d3d3d" stroke-width="0.4" textLength="145.6" lengthAdjust="spacing">ISTITUTO NAZIONALE</text>
<text transform="translate(169.8,89.4) scale(0.61,1)" x="0" y="0" font-family="Liberation Sans, Arial, sans-serif" font-size="12.9" fill="#3d3d3d" stroke="#3d3d3d" stroke-width="0.4" textLength="221.8" lengthAdjust="spacing">DI GEOFISICA E VULCANOLOGIA</text>
<circle cx="1096.6" cy="916.1" r="32.9" fill="#1a1a1a"/>
<circle cx="1096.6" cy="916.1" r="19" fill="none" stroke="#e30613" stroke-width="6.4"/>
<circle cx="1097.0" cy="916.1" r="7.8" fill="#e30613"/>
<path d="M1102.5,914 L1128.5,900.5 Q1131.8,899.5 1132,903 Q1133.5,917 1132.2,931 Q1131.8,934 1128.5,933 L1102.5,920 Z" fill="url(#megablue)"/>
<circle cx="1145.7" cy="916.5" r="10.3" fill="#e30613"/>
<text x="1145.7" y="922" font-family="DejaVu Sans, sans-serif" font-weight="bold" font-size="15" fill="#fff" text-anchor="middle" transform="rotate(90 1145.7 916.8)">?</text>
<path id="logoarc" d="M1133.37,933.58 A42,42 0 0 1 1056.63,899.42 A42,42 0 0 1 1133.37,933.58" fill="none"/>
<text font-family="DejaVu Sans, sans-serif" font-size="16.2" stroke-width="0.55"><textPath href="#logoarc" startOffset="0" textLength="226.5" lengthAdjust="spacing"><tspan fill="#e30613" stroke="#e30613" stroke-width="0.8">www.</tspan><tspan fill="#333" stroke="none">hai</tspan><tspan fill="#111" stroke="#111" stroke-width="0.7">sentito</tspan><tspan fill="#777" font-size="13">il</tspan><tspan fill="#111" stroke="#111">terremoto</tspan><tspan fill="#e30613" stroke="#e30613" stroke-width="0.7">.it</tspan></textPath></text>
</svg></body></html>
